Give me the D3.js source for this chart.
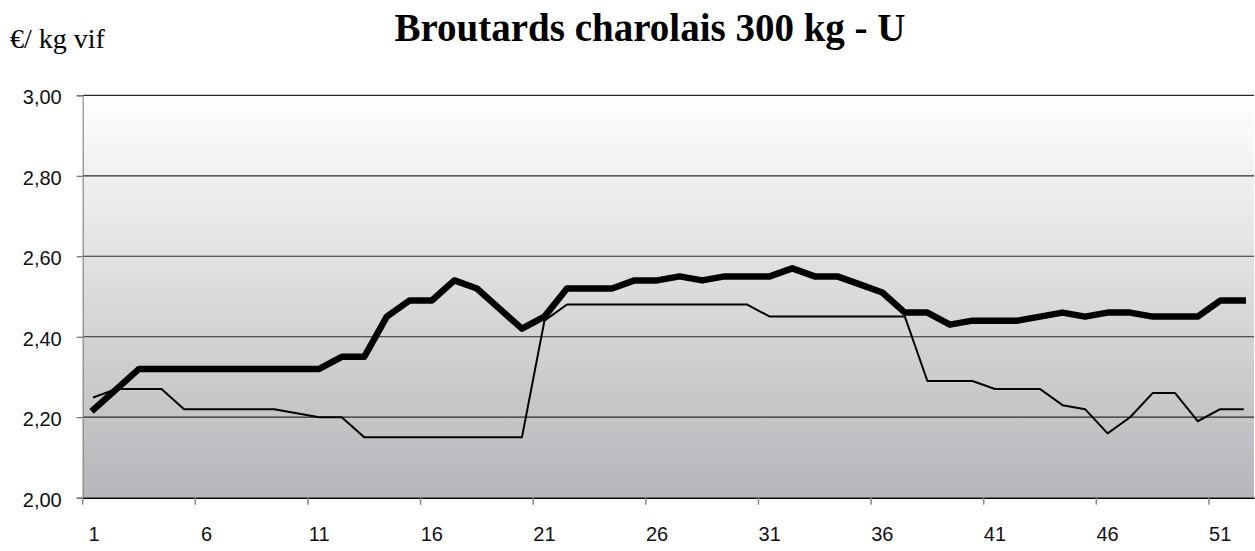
<!DOCTYPE html>
<meta charset="utf-8">
<style>
    body {
        margin: 0;
        background: #fff;
    }
</style>
<body>
<div id="chart"></div>
<script src="https://d3js.org/d3.v7.min.js"></script>
<script>
  // weeks 1..52
  var weeks = d3.range(1, 53);

  // current year (thick line)
  var current = [2.22, 2.27, 2.32, 2.32, 2.32, 2.32, 2.32, 2.32, 2.32, 2.32,
    2.32, 2.35, 2.35, 2.45, 2.49, 2.49, 2.54, 2.52, 2.47, 2.42,
    2.45, 2.52, 2.52, 2.52, 2.54, 2.54, 2.55, 2.54, 2.55, 2.55,
    2.55, 2.57, 2.55, 2.55, 2.53, 2.51, 2.46, 2.46, 2.43, 2.44,
    2.44, 2.44, 2.45, 2.46, 2.45, 2.46, 2.46, 2.45, 2.45, 2.45,
    2.49, 2.49];

  // previous year (thin line)
  var previous = [2.25, 2.27, 2.27, 2.27, 2.22, 2.22, 2.22, 2.22, 2.22, 2.21,
    2.20, 2.20, 2.15, 2.15, 2.15, 2.15, 2.15, 2.15, 2.15, 2.15,
    2.44, 2.48, 2.48, 2.48, 2.48, 2.48, 2.48, 2.48, 2.48, 2.48,
    2.45, 2.45, 2.45, 2.45, 2.45, 2.45, 2.45, 2.29, 2.29, 2.29,
    2.27, 2.27, 2.27, 2.23, 2.22, 2.16, 2.20, 2.26, 2.26, 2.19,
    2.22, 2.22];

  var xTicks = [1, 6, 11, 16, 21, 26, 31, 36, 41, 46, 51];
  var yTicks = [2.0, 2.2, 2.4, 2.6, 2.8, 3.0];

  var W = 1255, H = 551;
  var plot = { left: 82.7, right: 1254, top: 95.3, bottom: 497.7 };

  var svg = d3.select("#chart").append("svg")
    .attr("width", W)
    .attr("height", H);

  // plot background gradient
  var grad = svg.append("defs").append("linearGradient")
    .attr("id", "bg")
    .attr("x1", 0).attr("y1", 0).attr("x2", 0).attr("y2", 1);
  grad.append("stop").attr("offset", "0%").attr("stop-color", "#ffffff");
  grad.append("stop").attr("offset", "100%").attr("stop-color", "#b4b6b9");

  var x = d3.scaleBand().domain(weeks).range([plot.left, plot.right]).paddingInner(0).paddingOuter(0);
  var bw = x.bandwidth();
  var y = d3.scaleLinear().domain([2, 3]).range([plot.bottom, plot.top]);

  svg.append("rect")
    .attr("x", plot.left).attr("y", plot.top)
    .attr("width", plot.right - plot.left).attr("height", plot.bottom - plot.top)
    .attr("fill", "url(#bg)");

  // gridlines
  svg.append("g")
    .selectAll("line")
    .data(yTicks.slice(1))
    .enter()
    .append("line")
    .attr("x1", plot.left).attr("x2", plot.right)
    .attr("y1", function (d) { return y(d); })
    .attr("y2", function (d) { return y(d); })
    .attr("stroke", "#2a2a2a")
    .attr("stroke-width", 1.2);

  // y axis
  var yAxis = svg.append("g")
    .attr("transform", "translate(" + plot.left + ",0)")
    .call(d3.axisLeft(y).tickValues(yTicks).tickSize(6).tickPadding(15)
      .tickFormat(function (d) { return d3.format(".2f")(d).replace(".", ","); }));
  yAxis.select(".domain").attr("stroke", "#8a8a8a").attr("stroke-width", 1.2);
  yAxis.selectAll(".tick line").attr("stroke", "#555");
  yAxis.selectAll("text")
    .attr("dy", "0.42em")
    .attr("font-family", "'Liberation Sans', Arial, sans-serif")
    .attr("font-size", 20)
    .attr("fill", "#111");

  // x axis
  var xAxis = svg.append("g")
    .attr("transform", "translate(0," + plot.bottom + ")")
    .call(d3.axisBottom(x).tickValues(xTicks).tickSizeInner(7).tickSizeOuter(0).tickPadding(22));
  xAxis.select(".domain").attr("stroke", "#000").attr("stroke-width", 1.5);
  xAxis.selectAll(".tick line")
    .attr("x1", -bw / 2).attr("x2", -bw / 2)
    .attr("stroke", "#888").attr("stroke-width", 1.5);
  xAxis.selectAll("text")
    .attr("font-family", "'Liberation Sans', Arial, sans-serif")
    .attr("font-size", 20)
    .attr("fill", "#111");

  var line = d3.line()
    .x(function (d, i) { return x(weeks[i]) + bw / 2; })
    .y(function (d) { return y(d); });

  svg.append("path")
    .datum(previous)
    .attr("d", line)
    .attr("fill", "none")
    .attr("stroke", "#000")
    .attr("stroke-width", 2)
    .attr("stroke-linejoin", "round")
    .attr("stroke-linecap", "square");

  svg.append("path")
    .datum(current)
    .attr("d", line)
    .attr("fill", "none")
    .attr("stroke", "#000")
    .attr("stroke-width", 6.5)
    .attr("stroke-linejoin", "round")
    .attr("stroke-linecap", "square");

  // title and unit
  svg.append("text")
    .attr("x", 650).attr("y", 41)
    .attr("text-anchor", "middle")
    .attr("font-family", "'Liberation Serif', 'Times New Roman', serif")
    .attr("font-weight", "bold")
    .attr("font-size", 39)
    .text("Broutards charolais 300 kg - U");

  svg.append("text")
    .attr("x", 10).attr("y", 48)
    .attr("font-family", "'Liberation Serif', 'Times New Roman', serif")
    .attr("font-size", 28)
    .text("€/ kg vif");
</script>
</body>
